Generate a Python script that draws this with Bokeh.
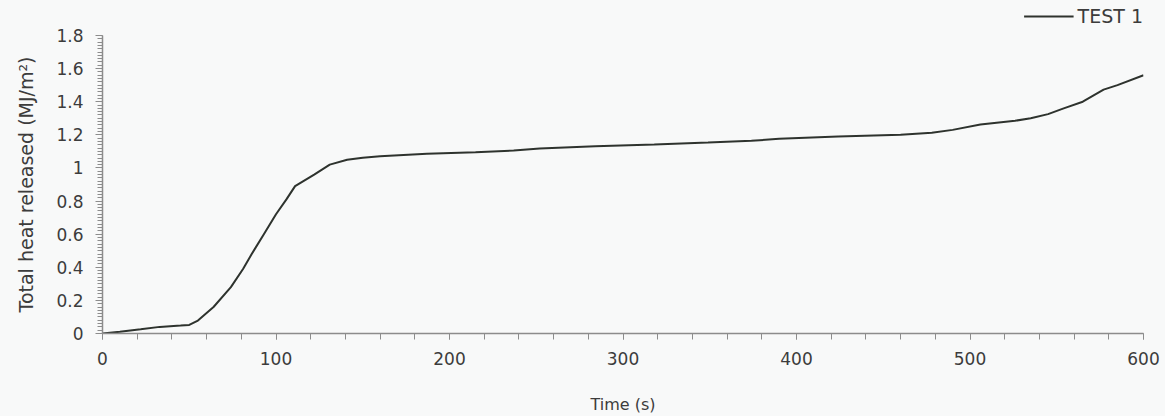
from bokeh.plotting import figure
from bokeh.layouts import column
from bokeh.models import Range1d, FixedTicker, Legend, LegendItem
from bokeh.embed import file_html
from bokeh.resources import INLINE

# ---- data ----
time_s = [0, 10, 22, 33, 45, 50, 55, 64, 74, 81, 86, 93, 100, 106, 111, 122, 131, 141, 150, 160,
          187, 215, 237, 252, 284, 318, 349, 374, 390, 424, 460, 478, 490, 506, 526, 535, 545,
          554, 565, 577, 585, 600]
thr_test1 = [0, 0.01, 0.025, 0.04, 0.048, 0.052, 0.078, 0.16, 0.28, 0.39, 0.48, 0.60, 0.72, 0.81,
             0.89, 0.96, 1.02, 1.05, 1.062, 1.07, 1.085, 1.095, 1.105, 1.117, 1.131, 1.141, 1.153,
             1.164, 1.176, 1.19, 1.2, 1.212, 1.23, 1.262, 1.285, 1.30, 1.325, 1.36, 1.40, 1.473,
             1.50, 1.56]
series_name = "TEST 1"
x_ticks = [0, 100, 200, 300, 400, 500, 600]
y_ticks = [0, 0.2, 0.4, 0.6, 0.8, 1.0, 1.2, 1.4, 1.6, 1.8]
y_tick_labels = ["0", "0.2", "0.4", "0.6", "0.8", "1", "1.2", "1.4", "1.6", "1.8"]
x_title = "Time (s)"
y_title = "Total heat released (MJ/m²)"

FONT = "DejaVu Sans"
TXT = "#3c3c3c"
AX = "#8c8c8c"
BG = "#f8f9f9"
LINE = "#2e332e"

# ---- main chart ----
p = figure(width=1165, height=389, output_backend="svg", toolbar_location=None,
           x_range=Range1d(0, 600), y_range=Range1d(0, 1.8),
           min_border_left=102, min_border_right=22, min_border_top=8, min_border_bottom=83,
           background_fill_color=BG, border_fill_color=BG)
p.outline_line_color = None
p.xgrid.visible = False
p.ygrid.visible = False

r = p.line(time_s, thr_test1, line_color=LINE, line_width=2)

for ax in (p.xaxis[0], p.yaxis[0]):
    ax.axis_line_color = AX
    ax.axis_line_width = 1.5
    ax.major_tick_line_color = AX
    ax.minor_tick_line_color = AX
    ax.major_tick_in = 0
    ax.minor_tick_in = 0
    ax.major_label_text_font = FONT
    ax.major_label_text_font_size = "17px"
    ax.major_label_text_color = TXT
    ax.axis_label_text_font = FONT
    ax.axis_label_text_font_style = "normal"
    ax.axis_label_text_color = TXT

xa = p.xaxis[0]
xa.ticker = FixedTicker(ticks=x_ticks, minor_ticks=list(range(0, 601, 20)))
xa.major_tick_out = 6
xa.minor_tick_out = 6
xa.major_label_standoff = 12
xa.axis_label = x_title
xa.axis_label_text_font_size = "16px"
xa.axis_label_standoff = 27

ya = p.yaxis[0]
ya.ticker = FixedTicker(ticks=y_ticks, minor_ticks=[i * 0.02 for i in range(0, 91)])
ya.major_label_overrides = {t: s for t, s in zip(y_ticks, y_tick_labels)}
ya.major_tick_out = 7
ya.minor_tick_out = 5
ya.major_label_standoff = 12
ya.axis_label = y_title
ya.axis_label_text_font_size = "19px"
ya.axis_label_standoff = 16

# ---- legend strip above the chart ----
lf = figure(width=1165, height=27, output_backend="svg", toolbar_location=None,
            x_range=Range1d(0, 1), y_range=Range1d(0, 1),
            x_axis_location=None, y_axis_location=None,
            min_border=0, min_border_left=0, min_border_right=0,
            min_border_top=0, min_border_bottom=0,
            background_fill_color=BG, border_fill_color=BG)
lf.outline_line_color = None
lf.xgrid.visible = False
lf.ygrid.visible = False
nan = float("nan")
lr = lf.line([nan], [nan], line_color=LINE, line_width=2)

legend = Legend(items=[LegendItem(label=series_name, renderers=[lr])],
                location="bottom_right", orientation="horizontal",
                background_fill_alpha=0, border_line_color=None,
                padding=0, margin=0, spacing=0,
                glyph_width=50, glyph_height=20, label_height=20,
                label_standoff=4,
                label_text_font=FONT, label_text_font_size="19px",
                label_text_color=TXT)
lf.add_layout(legend, "center")

page = column(lf, p, spacing=0, background=BG)
open("out.html", "w").write(file_html(page, INLINE))
